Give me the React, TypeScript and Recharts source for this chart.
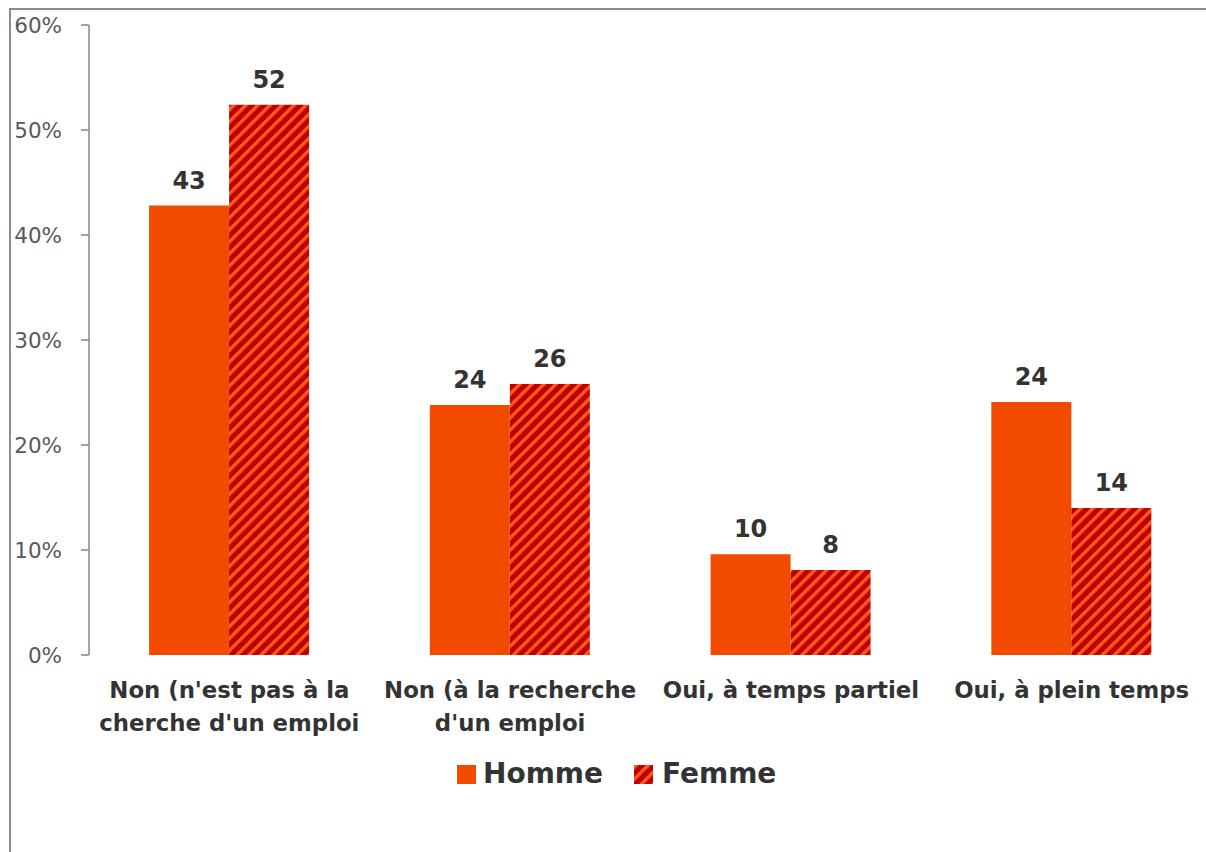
import React from 'react';
import { BarChart, Bar, XAxis, YAxis, Legend, LabelList } from 'recharts';

const categories = [
  "Non (n'est pas à la\ncherche d'un emploi",
  "Non (à la recherche\nd'un emploi",
  'Oui, à temps partiel',
  'Oui, à plein temps',
];
const homme = [0.428, 0.238, 0.096, 0.241];
const femme = [0.524, 0.258, 0.081, 0.14];
const yTicks = [0, 0.1, 0.2, 0.3, 0.4, 0.5, 0.6];
const boundaryTicks = [0, 1, 2, 3, 4];

const data = categories.map((name, i) => ({ name, homme: homme[i], femme: femme[i] }));

const FONT = '"DejaVu Sans", sans-serif';
const ORANGE = '#F24B00';

const Stripes = ({ id }: { id: string }) => (
  <pattern id={id} patternUnits="userSpaceOnUse" width="8.5" height="8.5" patternTransform="rotate(45)">
    <rect width="8.5" height="8.5" fill="#C00000" />
    <rect width="3.4" height="8.5" fill="#FF5A1E" />
  </pattern>
);

const CategoryTick = (props: any) => {
  const { x, y, payload } = props;
  const lines = String(payload.value).split('\n');
  return (
    <text x={x} y={y} textAnchor="middle" fontFamily={FONT} fontWeight="bold" fontSize={22.8} fill="#333333">
      {lines.map((l, i) => (
        <tspan key={i} x={x} dy={i === 0 ? 41 : 33}>
          {l}
        </tspan>
      ))}
    </text>
  );
};

const renderLegend = () => (
  <div style={{ display: 'flex', alignItems: 'center', fontFamily: FONT, fontWeight: 'bold', fontSize: 28, color: '#333333', lineHeight: '30px' }}>
    <svg width={19} height={19} style={{ marginRight: 7 }}>
      <rect width={19} height={19} fill={ORANGE} />
    </svg>
    <span>Homme</span>
    <svg width={19} height={19} style={{ marginLeft: 31, marginRight: 9 }}>
      <defs>
        <Stripes id="stripes-legend" />
      </defs>
      <rect width={19} height={19} fill="url(#stripes-legend)" />
    </svg>
    <span>Femme</span>
  </div>
);

export default function App() {
  return (
    <div style={{ position: 'relative', width: 1206, height: 852, overflow: 'hidden', background: '#fff' }}>
      <style>{'body{margin:0;overflow:hidden;}'}</style>
      <div
        style={{
          position: 'absolute',
          left: 9,
          top: 8,
          width: 1300,
          height: 900,
          borderTop: '2px solid #8c8c8c',
          borderLeft: '2px solid #8c8c8c',
        }}
      />
      <div style={{ position: 'absolute', left: 0, top: 0 }}>
        <BarChart
          width={1230}
          height={852}
          data={data}
          margin={{ top: 25, right: 18, bottom: 0, left: 0 }}
          barCategoryGap="21.4%"
          barGap={0}
        >
          <defs>
            <Stripes id="stripes" />
          </defs>
          <XAxis
            xAxisId="grid"
            type="number"
            domain={[0, 4]}
            ticks={boundaryTicks}
            tick={false}
            height={0}
            tickSize={8}
            stroke="#868686"
            axisLine={{ stroke: '#868686', strokeWidth: 1.5 }}
            tickLine={{ stroke: '#868686', strokeWidth: 1.5 }}
          />
          <XAxis
            dataKey="name"
            height={197}
            axisLine={false}
            tickLine={false}
            tickSize={0}
            interval={0}
            tick={<CategoryTick />}
          />
          <YAxis
            width={89}
            domain={[0, 0.6]}
            ticks={yTicks}
            tickFormatter={(v: number) => `${Math.round(v * 100)}%`}
            tickSize={8}
            tickMargin={19}
            axisLine={{ stroke: '#868686', strokeWidth: 1.5 }}
            tickLine={{ stroke: '#868686', strokeWidth: 1.5 }}
            tick={{ fontFamily: FONT, fontSize: 21.5, fill: '#595959' }}
          />
          <Legend
            verticalAlign="middle"
            align="center"
            layout="horizontal"
            wrapperStyle={{ top: 759, left: 457, width: 340 }}
            content={renderLegend}
          />
          <Bar dataKey="homme" name="Homme" fill={ORANGE} isAnimationActive={false}>
            <LabelList
              dataKey="homme"
              position="top"
              offset={17}
              formatter={(v: number) => Math.round(v * 100)}
              style={{ fontFamily: FONT, fontWeight: 'bold', fontSize: 24, fill: '#333333' }}
            />
          </Bar>
          <Bar dataKey="femme" name="Femme" fill="url(#stripes)" isAnimationActive={false}>
            <LabelList
              dataKey="femme"
              position="top"
              offset={17}
              formatter={(v: number) => Math.round(v * 100)}
              style={{ fontFamily: FONT, fontWeight: 'bold', fontSize: 24, fill: '#333333' }}
            />
          </Bar>
        </BarChart>
      </div>
    </div>
  );
}
